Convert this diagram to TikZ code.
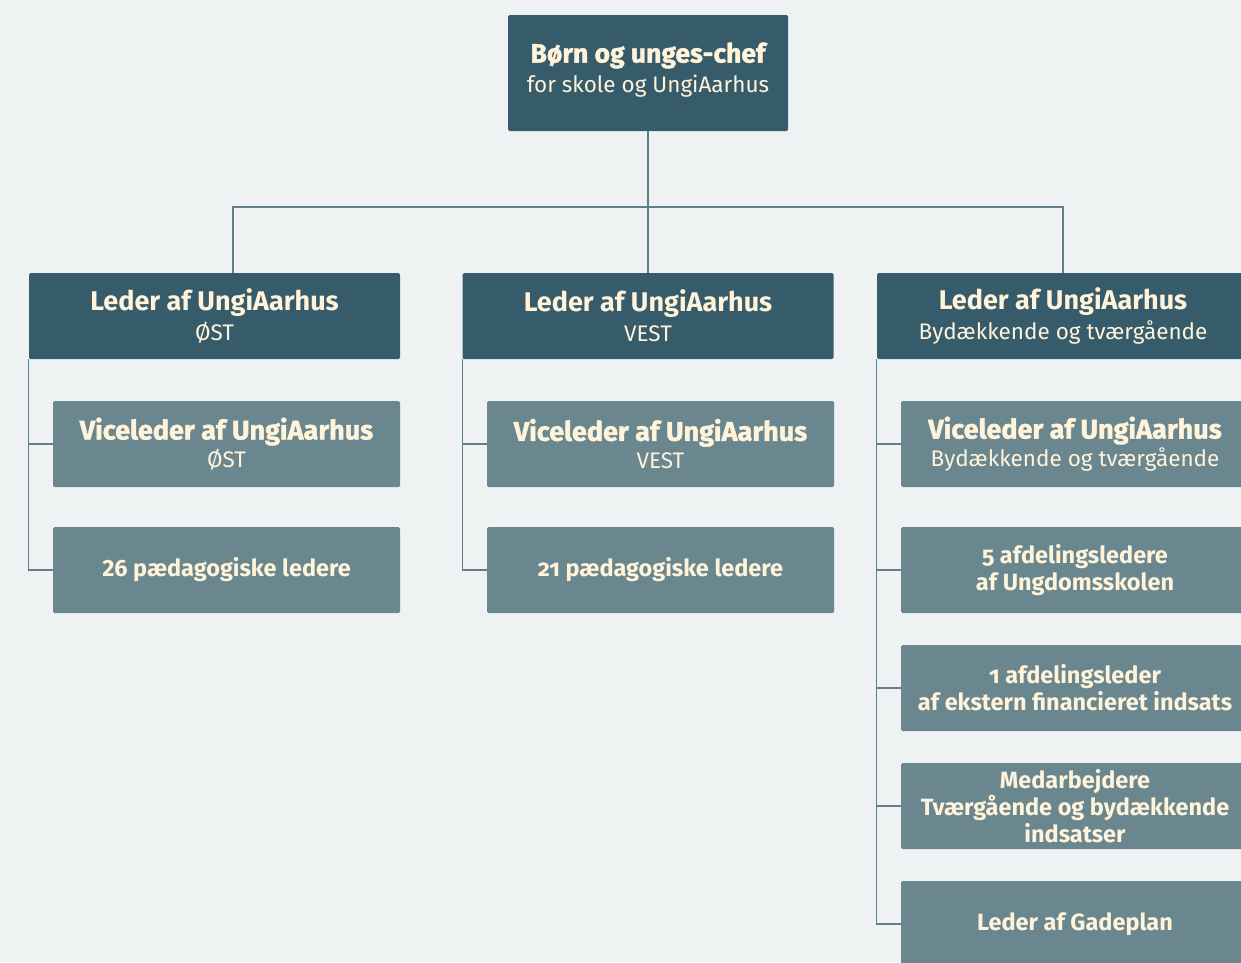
\documentclass[tikz,border=0pt]{standalone}
\usepackage{fontspec}
\usetikzlibrary{calc}
\setmainfont{Fira Sans}
\newfontfamily\heavyfontx[FakeBold=1.5]{Fira Sans}
\newcommand{\hvy}{\heavyfontx\bfseries}
\newcommand{\bld}{\bfseries}
\definecolor{bg}{HTML}{EEF2F3}
\definecolor{dark}{HTML}{365B6B}
\definecolor{light}{HTML}{6A8790}
\definecolor{cream}{HTML}{FFF3DA}
\definecolor{linec}{HTML}{5E7F8B}
\begin{document}
\begin{tikzpicture}[x=1pt,y=-1pt,
  box/.style={minimum width=371pt,minimum height=86pt,inner sep=0pt,align=center,text=cream,rounded corners=1.5pt},
  darkbox/.style={box,fill=dark,font=\fontsize{22.5}{30}\selectfont},
  lightbox/.style={box,fill=light,minimum width=347pt,font=\fontsize{22.5}{28}\selectfont},
  conn/.style={draw=linec,line width=1.1pt},
  mid/.style={font=\bfseries\fontsize{23.5}{27}\selectfont}]
\useasboundingbox (0,0) rectangle (1241,962);
\clip (0,0) rectangle (1241,962);
\fill[bg] (0,0) rectangle (1241,962);
% top
\node[darkbox,minimum width=280pt,minimum height=116pt] (top) at (648,73)
  {{\hvy\fontsize{26.5}{30}\selectfont Børn og unges-chef}\\{\fontsize{22.5}{30}\selectfont for skole og UngiAarhus}\\[-28pt]\strut};
% level 2
\node[darkbox] (l) at (214.5,316) {{\bld\fontsize{27}{30}\selectfont Leder af UngiAarhus}\\ØST};
\node[darkbox] (m) at (648,316) {{\bld\fontsize{27}{30}\selectfont Leder af UngiAarhus}\\VEST};
\node[darkbox,minimum width=372pt] (r) at (1063,316) {{\bld\fontsize{27}{30}\selectfont Leder af UngiAarhus}\\Bydækkende og tværgående};
% left column
\node[lightbox] (l1) at (226.5,444) {{\hvy\fontsize{27}{28}\selectfont Viceleder af UngiAarhus}\\ØST};
\node[lightbox,mid] (l2) at (226.5,570) {26 pædagogiske ledere};
% middle column
\node[lightbox] (m1) at (660.5,444) {{\hvy\fontsize{27}{28}\selectfont Viceleder af UngiAarhus}\\VEST};
\node[lightbox,mid] (m2) at (660.5,570) {\addfontfeatures{Numbers=OldStyle}21 pædagogiske ledere};
% right column
\node[lightbox,minimum width=348pt] (r1) at (1075,444) {{\hvy\fontsize{27}{28}\selectfont Viceleder af UngiAarhus}\\Bydækkende og tværgående};
\node[lightbox,minimum width=348pt,mid] (r2) at (1075,570) {\addfontfeatures{Numbers=OldStyle}5 afdelingsledere\\af Ungdomsskolen};
\node[lightbox,minimum width=348pt,mid] (r3) at (1075,688) {\addfontfeatures{Numbers=OldStyle}1 afdelingsleder\\af ekstern financieret indsats};
\node[lightbox,minimum width=348pt,mid] (r4) at (1075,806) {Medarbejdere\\Tværgående og bydækkende\\indsatser};
\node[lightbox,minimum width=348pt,mid] (r5) at (1075,924) {Leder af Gadeplan};
% connectors
\coordinate (hb) at (648,207);
\draw[conn] (top.south) -- (m.north);
\draw[conn] ($(l.north)+(18.5,0)$) |- (hb) -| (r.north);
\draw[conn] (l.south west) |- (l1.west);
\draw[conn] (l.south west) |- (l2.west);
\draw[conn] (m.south west) |- (m1.west);
\draw[conn] (m.south west) |- (m2.west);
\draw[conn] (r.south west) |- (r1.west);
\draw[conn] (r.south west) |- (r2.west);
\draw[conn] (r.south west) |- (r3.west);
\draw[conn] (r.south west) |- (r4.west);
\draw[conn] (r.south west) |- (r5.west);
\end{tikzpicture}
\end{document}
